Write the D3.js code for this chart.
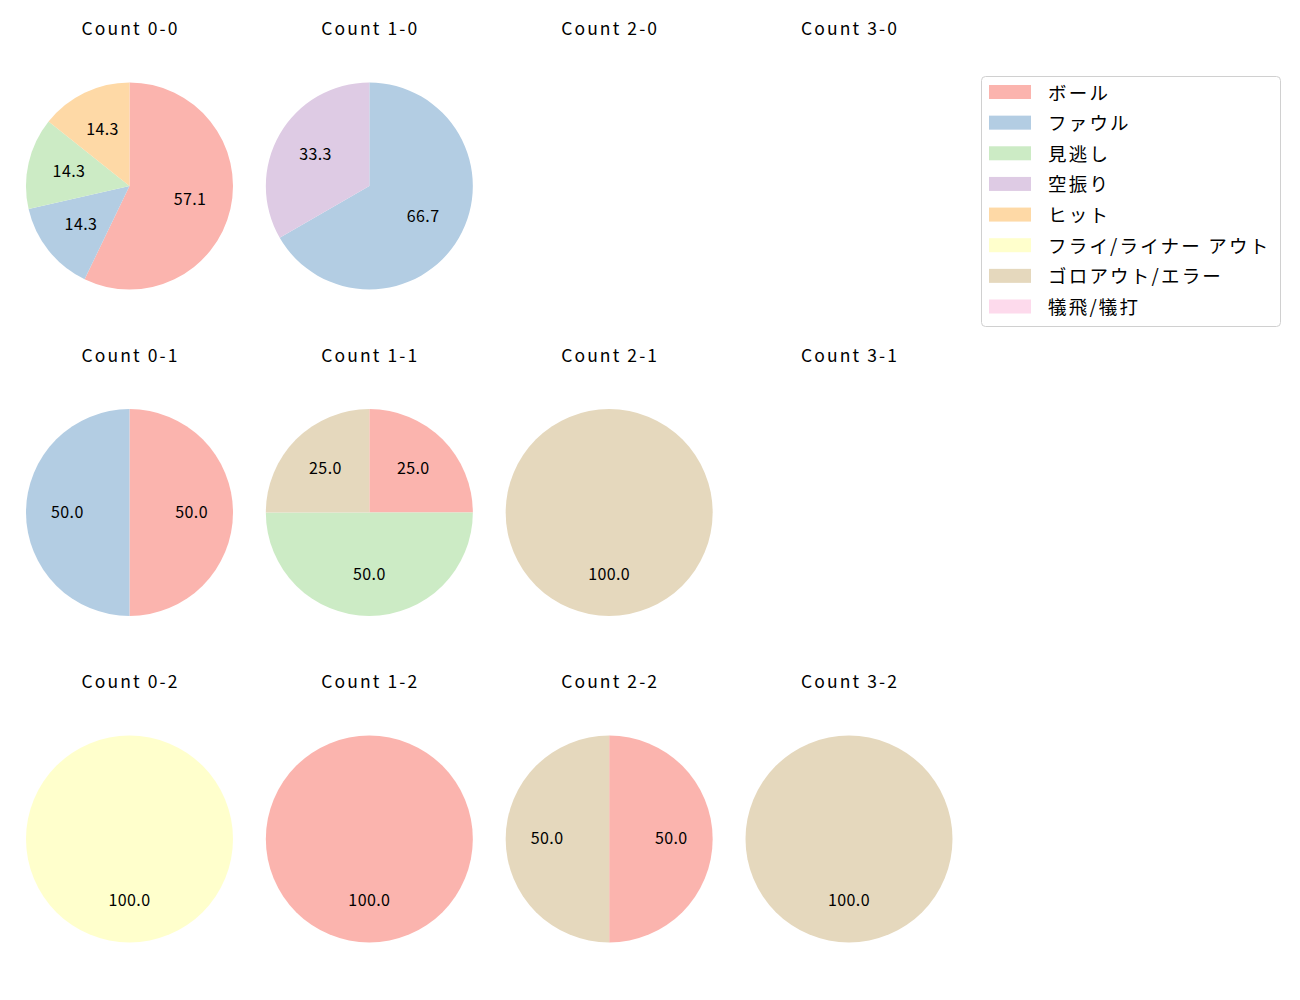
<!DOCTYPE html>
<html><head><meta charset="utf-8">
<script src="https://cdn.jsdelivr.net/npm/d3@7"></script>
<style>body{margin:0;background:#fff}svg{font-family:"Noto Sans CJK JP","Noto Sans",sans-serif}</style>
</head><body>
<svg id="c" width="1300" height="1000"></svg>
<script>
const categories = ["ボール","ファウル","見逃し","空振り","ヒット","フライ/ライナー アウト","ゴロアウト/エラー","犠飛/犠打"];
const colors = ["#fbb4ae","#b3cde3","#ccebc5","#decbe4","#fed9a6","#ffffcc","#e5d8bd","#fddaec"];
const titles = ["Count 0-0","Count 1-0","Count 2-0","Count 3-0",
                "Count 0-1","Count 1-1","Count 2-1","Count 3-1",
                "Count 0-2","Count 1-2","Count 2-2","Count 3-2"];
const counts00 = [4,1,1,0,1,0,0,0];
const counts10 = [0,2,0,1,0,0,0,0];
const counts20 = [0,0,0,0,0,0,0,0];
const counts30 = [0,0,0,0,0,0,0,0];
const counts01 = [1,1,0,0,0,0,0,0];
const counts11 = [1,0,2,0,0,0,1,0];
const counts21 = [0,0,0,0,0,0,1,0];
const counts31 = [0,0,0,0,0,0,0,0];
const counts02 = [0,0,0,0,0,1,0,0];
const counts12 = [1,0,0,0,0,0,0,0];
const counts22 = [1,0,0,0,0,0,1,0];
const counts32 = [0,0,0,0,0,0,1,0];
const panels = [counts00,counts10,counts20,counts30,counts01,counts11,counts21,counts31,counts02,counts12,counts22,counts32];

const svg = d3.select("#c");
const colX = d3.scaleLinear().domain([0,3]).range([129.5,849]);
const rowY = d3.scaleLinear().domain([0,2]).range([186,839]);
const R = 103.5;
const color = d3.scaleOrdinal().domain(categories).range(colors);
const pie = d3.pie().sort(null).value(d=>d.v);
const arc = d3.arc().innerRadius(0).outerRadius(R);
const labelArc = d3.arc().innerRadius(R*0.6).outerRadius(R*0.6);

panels.forEach((vals,i)=>{
  const cx = colX(i%4), cy = rowY(Math.floor(i/4));
  svg.append("text").attr("x",cx+1).attr("y",cy-158.5).attr("text-anchor","middle")
    .attr("dominant-baseline","central").attr("font-size",17.5).attr("letter-spacing",2.1)
    .attr("fill","#000").text(titles[i]);
  const total = d3.sum(vals);
  if(total===0) return;
  const data = vals.map((v,k)=>({v,c:categories[k]}));
  const g = svg.append("g").attr("transform",`translate(${cx},${cy})`);
  const arcs = pie(data).filter(a=>a.data.v>0);
  g.selectAll("path").data(arcs).join("path").attr("d",arc).attr("fill",d=>color(d.data.c));
  g.selectAll("text").data(arcs).join("text")
    .attr("transform",d=>`translate(${labelArc.centroid(d)})`)
    .attr("dy",-2)
    .attr("text-anchor","middle").attr("dominant-baseline","central")
    .attr("font-size",16).attr("letter-spacing",0.4).attr("fill","#000")
    .text(d=>(d.data.v/total*100).toFixed(1));
});

// legend
const lg = svg.append("g");
lg.append("rect").attr("x",981.5).attr("y",76.5).attr("width",299).attr("height",250).attr("rx",4)
  .attr("fill","#fff").attr("stroke","#d0d0d0").attr("stroke-width",1);
const ly = d3.scaleLinear().domain([0,7]).range([92,306.5]);
categories.forEach((c,k)=>{
  lg.append("rect").attr("x",989).attr("y",ly(k)-7).attr("width",42).attr("height",14).attr("fill",color(c));
  lg.append("text").attr("x",1048).attr("y",ly(k)-0.5).attr("dominant-baseline","central")
    .attr("font-size",18.5).attr("letter-spacing",2.2).attr("fill","#000").text(c);
});
</script>
</body></html>
